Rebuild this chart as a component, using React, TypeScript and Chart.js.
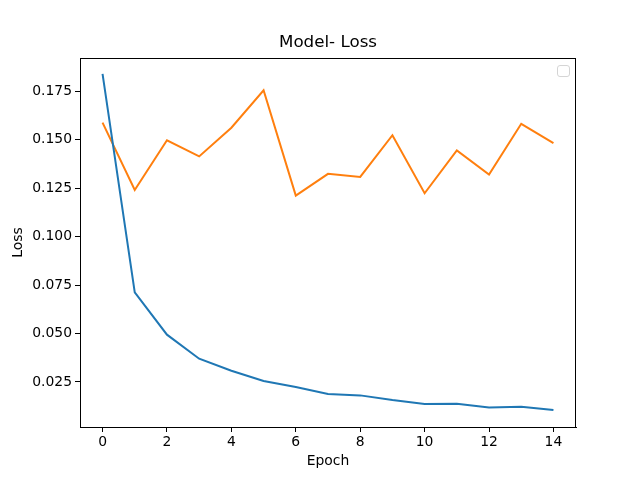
import React, { useEffect, useRef } from "react";
import { Chart, registerables } from "chart.js";

Chart.register(...registerables);

const epochs = [0, 1, 2, 3, 4, 5, 6, 7, 8, 9, 10, 11, 12, 13, 14];
const trainLoss = [0.1838, 0.0712, 0.0494, 0.037, 0.0308, 0.0255, 0.0224, 0.0188, 0.0181, 0.0157, 0.0137, 0.0138, 0.0118, 0.0122, 0.0106];
const valLoss = [0.1587, 0.124, 0.1496, 0.1413, 0.1561, 0.1754, 0.1211, 0.1323, 0.1307, 0.1522, 0.1223, 0.1444, 0.132, 0.1581, 0.1481];
const xTicks = [0, 2, 4, 6, 8, 10, 12, 14];
const yTicks = [0.025, 0.05, 0.075, 0.1, 0.125, 0.15, 0.175];

const FONT = "'DejaVu Sans', sans-serif";

const framePlugin = {
  id: "frame",
  afterDraw(chart: any) {
    const { ctx, chartArea } = chart;
    ctx.save();
    ctx.strokeStyle = "#000";
    ctx.lineWidth = 1;
    ctx.strokeRect(
      Math.round(chartArea.left) + 0.5,
      Math.round(chartArea.top) + 0.5,
      Math.round(chartArea.right - chartArea.left) - 1,
      Math.round(chartArea.bottom - chartArea.top)
    );
    // empty legend box (upper right)
    const w = 12, h = 11, r = 2.5;
    const x = chartArea.right - 18.5, y = chartArea.top + 7.5;
    ctx.beginPath();
    ctx.moveTo(x + r, y);
    ctx.lineTo(x + w - r, y);
    ctx.quadraticCurveTo(x + w, y, x + w, y + r);
    ctx.lineTo(x + w, y + h - r);
    ctx.quadraticCurveTo(x + w, y + h, x + w - r, y + h);
    ctx.lineTo(x + r, y + h);
    ctx.quadraticCurveTo(x, y + h, x, y + h - r);
    ctx.lineTo(x, y + r);
    ctx.quadraticCurveTo(x, y, x + r, y);
    ctx.closePath();
    ctx.fillStyle = "rgba(255,255,255,0.8)";
    ctx.fill();
    ctx.strokeStyle = "#d4d4d4";
    ctx.stroke();
    ctx.restore();
  },
};

export default function App() {
  const ref = useRef<HTMLCanvasElement>(null);
  useEffect(() => {
    document.body.style.margin = "0";
    const chart = new Chart(ref.current!, {
      type: "line",
      data: {
        datasets: [
          {
            label: "train",
            data: epochs.map((e, i) => ({ x: e, y: trainLoss[i] })),
            borderColor: "#1f77b4",
            backgroundColor: "#1f77b4",
            borderWidth: 2,
            pointRadius: 0,
            tension: 0,
          },
          {
            label: "val",
            data: epochs.map((e, i) => ({ x: e, y: valLoss[i] })),
            borderColor: "#ff7f0e",
            backgroundColor: "#ff7f0e",
            borderWidth: 2,
            pointRadius: 0,
            tension: 0,
          },
        ],
      },
      plugins: [framePlugin],
      options: {
        animation: false,
        responsive: false,
        layout: { padding: { left: 0, right: 64, top: 0, bottom: 0 } },
        plugins: {
          legend: { display: false },
          tooltip: { enabled: false },
          title: {
            display: true,
            fullSize: false,
            text: "Model- Loss",
            color: "#000",
            font: { family: FONT, size: 16.7, weight: "normal" },
            padding: { top: 33, bottom: 5 },
          },
        },
        scales: {
          x: {
            type: "linear",
            min: -0.7,
            max: 14.7,
            afterBuildTicks: (s: any) => {
              s.ticks = xTicks.map((v) => ({ value: v }));
            },
            afterFit: (s: any) => {
              s.height = 53;
            },
            grid: { drawOnChartArea: false, drawTicks: true, tickLength: 5, color: "#000" },
            border: { color: "#000", width: 1 },
            ticks: { color: "#000", font: { family: FONT, size: 13.9 }, padding: 2, maxRotation: 0 },
            title: {
              display: true,
              text: "Epoch",
              color: "#000",
              font: { family: FONT, size: 13.9 },
              padding: { top: 10, bottom: 10 },
            },
          },
          y: {
            type: "linear",
            min: 0.0018,
            max: 0.192,
            afterBuildTicks: (s: any) => {
              s.ticks = yTicks.map((v) => ({ value: v }));
            },
            afterFit: (s: any) => {
              s.width = 80;
            },
            grid: { drawOnChartArea: false, drawTicks: true, tickLength: 5, color: "#000" },
            border: { color: "#000", width: 1 },
            ticks: {
              color: "#000",
              font: { family: FONT, size: 13.9 },
              padding: 3,
              callback: (v: any) => Number(v).toFixed(3),
            },
            title: {
              display: true,
              text: "Loss",
              color: "#000",
              font: { family: FONT, size: 13.9 },
              padding: { top: 10, bottom: 10 },
            },
          },
        },
      },
    } as any);
    return () => chart.destroy();
  }, []);
  return <canvas ref={ref} width={640} height={480} style={{ display: "block" }} />;
}
